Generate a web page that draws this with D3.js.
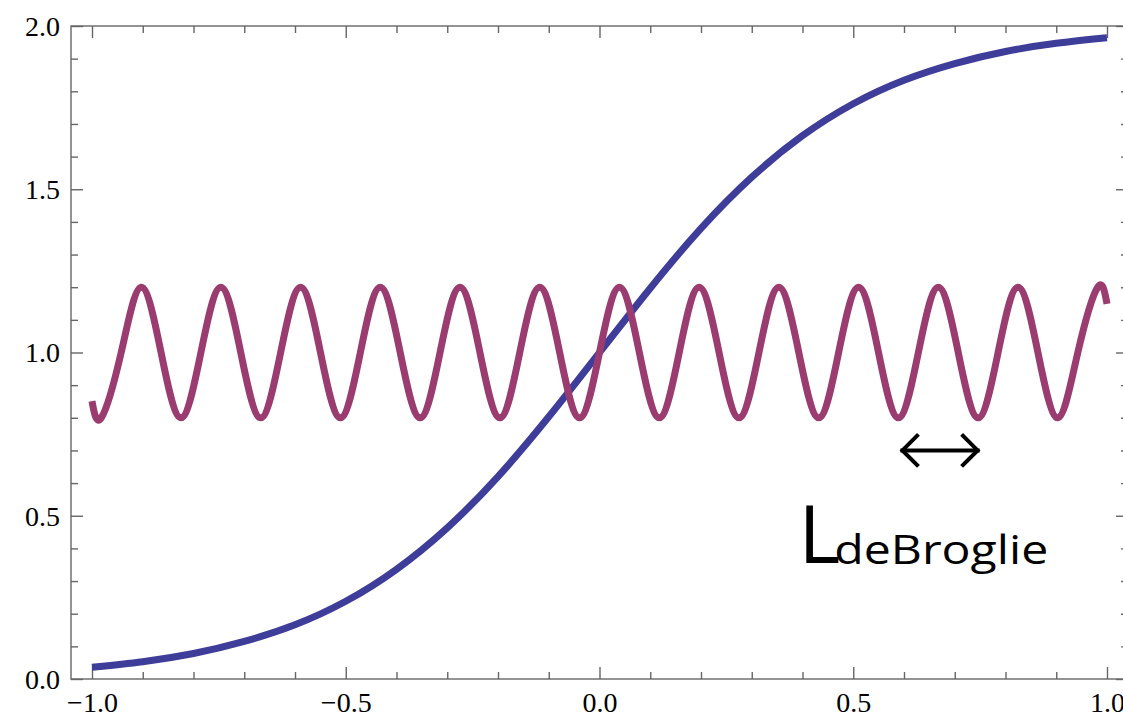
<!DOCTYPE html>
<html>
<head>
<meta charset="utf-8">
<script src="https://cdn.jsdelivr.net/npm/d3@7"></script>
<style>
  body { margin: 0; background: #fff; }
  .tick text { font-family: "Liberation Serif", "Times New Roman", serif; font-size: 28px; fill: #000; }
</style>
</head>
<body>
<svg width="1123" height="718"></svg>
<script>
var width = 1123;
var height = 718;

// blue curve, read every 0.1
var stepX = [-1, -0.9, -0.8, -0.7, -0.6, -0.5, -0.4, -0.3, -0.2, -0.1, 0,
             0.1, 0.2, 0.3, 0.4, 0.5, 0.6, 0.7, 0.8, 0.9, 1];
var stepY = [0.036, 0.053, 0.078, 0.115, 0.166, 0.238, 0.336, 0.463, 0.620, 0.803, 1,
             1.197, 1.380, 1.537, 1.664, 1.762, 1.834, 1.885, 1.922, 1.947, 1.964];

// wave, read at troughs, crossings and peaks
var waveX = [-1, -0.9817, -0.9425, -0.9032, -0.8639, -0.8247, -0.7854, -0.7461, -0.7069, -0.6676,
             -0.6283, -0.5890, -0.5498, -0.5105, -0.4712, -0.4320, -0.3927, -0.3534, -0.3142,
             -0.2749, -0.2356, -0.1963, -0.1571, -0.1178, -0.0785, -0.0393, 0,
             0.0393, 0.0785, 0.1178, 0.1571, 0.1963, 0.2356, 0.2749, 0.3142, 0.3534, 0.3927,
             0.4320, 0.4712, 0.5105, 0.5498, 0.5890, 0.6283, 0.6676, 0.7069, 0.7461, 0.7854,
             0.8247, 0.8639, 0.9032, 0.9425, 0.9817, 1];
var waveY = [0.851, 0.8, 1, 1.2, 1, 0.8, 1, 1.2, 1, 0.8,
             1, 1.2, 1, 0.8, 1, 1.2, 1, 0.8, 1,
             1.2, 1, 0.8, 1, 1.2, 1, 0.8, 1,
             1.2, 1, 0.8, 1, 1.2, 1, 0.8, 1, 1.2, 1,
             0.8, 1, 1.2, 1, 0.8, 1, 1.2, 1, 0.8, 1,
             1.2, 1, 0.8, 1, 1.2, 1.149];

var xMajor = [-1, -0.5, 0, 0.5, 1];
var yMajor = [0, 0.5, 1, 1.5, 2];

// annotation
var arrowX = [0.591, 0.751];
var arrowY = 0.70;
var labelMain = "L";
var labelSub = "deBroglie";
var labelX = 0.392;
var labelY = 0.355;

var xScale = d3.scaleLinear().domain([-1, 1]).range([92, 1107]);
var yScale = d3.scaleLinear().domain([0, 2]).range([679, 26]);
var xLo = xScale.invert(71), xHi = xScale.invert(1128);

var xMinor = d3.range(-10, 11).map(d => d / 10).filter(d => Math.abs(d * 2 - Math.round(d * 2)) > 1e-6);
var yMinor = d3.range(0, 21).map(d => d / 10).filter(d => Math.abs(d * 2 - Math.round(d * 2)) > 1e-6);

var svg = d3.select("svg");
var frameColor = "#666";

// frame
svg.append("rect")
    .attr("x", xScale(xLo))
    .attr("y", yScale(2))
    .attr("width", xScale(xHi) - xScale(xLo))
    .attr("height", yScale(0) - yScale(2))
    .attr("fill", "none")
    .attr("stroke", frameColor)
    .attr("stroke-width", 1.4);

function addAxis(axis, tx, ty) {
  var g = svg.append("g")
      .attr("transform", "translate(" + tx + "," + ty + ")")
      .call(axis);
  g.select(".domain").remove();
  g.selectAll(".tick line").attr("stroke", frameColor).attr("stroke-width", 1.4);
  return g;
}

var fmt = d3.format(".1f");

// bottom & left with labels
addAxis(d3.axisBottom(xScale).tickValues(xMajor).tickSize(-12).tickPadding(13).tickFormat(fmt), 0, yScale(0));
addAxis(d3.axisBottom(xScale).tickValues(xMinor).tickSize(-7).tickFormat(""), 0, yScale(0));
addAxis(d3.axisLeft(yScale).tickValues(yMajor).tickSize(-12).tickPadding(11).tickFormat(fmt), xScale(xLo), 0);
addAxis(d3.axisLeft(yScale).tickValues(yMinor).tickSize(-7).tickFormat(""), xScale(xLo), 0);
// top & right mirrored ticks
addAxis(d3.axisTop(xScale).tickValues(xMajor).tickSize(-12).tickFormat(""), 0, yScale(2));
addAxis(d3.axisTop(xScale).tickValues(xMinor).tickSize(-7).tickFormat(""), 0, yScale(2));
addAxis(d3.axisRight(yScale).tickValues(yMajor).tickSize(-12).tickFormat(""), xScale(xHi), 0);
addAxis(d3.axisRight(yScale).tickValues(yMinor).tickSize(-7).tickFormat(""), xScale(xHi), 0);

svg.selectAll(".tick text").each(function () {
  var t = d3.select(this);
  if (t.attr("x") !== null && +t.attr("x") < 0) t.attr("dy", "0.33em");
  else t.attr("dy", "0.70em");
});

var line = d3.line()
    .x(d => xScale(d[0]))
    .y(d => yScale(d[1]))
    .curve(d3.curveNatural);

svg.append("path")
    .datum(d3.zip(stepX, stepY))
    .attr("d", line)
    .attr("fill", "none")
    .attr("stroke", "#3e3d9a")
    .attr("stroke-width", 7);

svg.append("path")
    .datum(d3.zip(waveX, waveY))
    .attr("d", line)
    .attr("fill", "none")
    .attr("stroke", "#9a3c70")
    .attr("stroke-width", 7);

// double arrow
var ax0 = xScale(arrowX[0]), ax1 = xScale(arrowX[1]), ay = yScale(arrowY);
var arrow = svg.append("g")
    .attr("fill", "none")
    .attr("stroke", "#000")
    .attr("stroke-width", 4);
arrow.append("line").attr("x1", ax0 + 1).attr("x2", ax1 - 1).attr("y1", ay).attr("y2", ay);
arrow.append("path").attr("d", "M" + (ax0 + 19) + "," + (ay - 16) + "L" + (ax0 + 3) + "," + ay + "L" + (ax0 + 19) + "," + (ay + 16));
arrow.append("path").attr("d", "M" + (ax1 - 19) + "," + (ay - 16) + "L" + (ax1 - 3) + "," + ay + "L" + (ax1 - 19) + "," + (ay + 16));

var label = svg.append("text")
    .attr("x", xScale(labelX))
    .attr("y", yScale(labelY))
    .attr("font-family", "'Open Sans', Lato, sans-serif")
    .attr("fill", "#000");
label.append("tspan")
    .attr("font-size", 80)
    .text(labelMain);
label.append("tspan")
    .attr("font-size", 40)
    .attr("dx", -6)
    .attr("dy", 1)
    .attr("textLength", 214)
    .attr("lengthAdjust", "spacingAndGlyphs")
    .text(labelSub);
</script>
</body>
</html>
